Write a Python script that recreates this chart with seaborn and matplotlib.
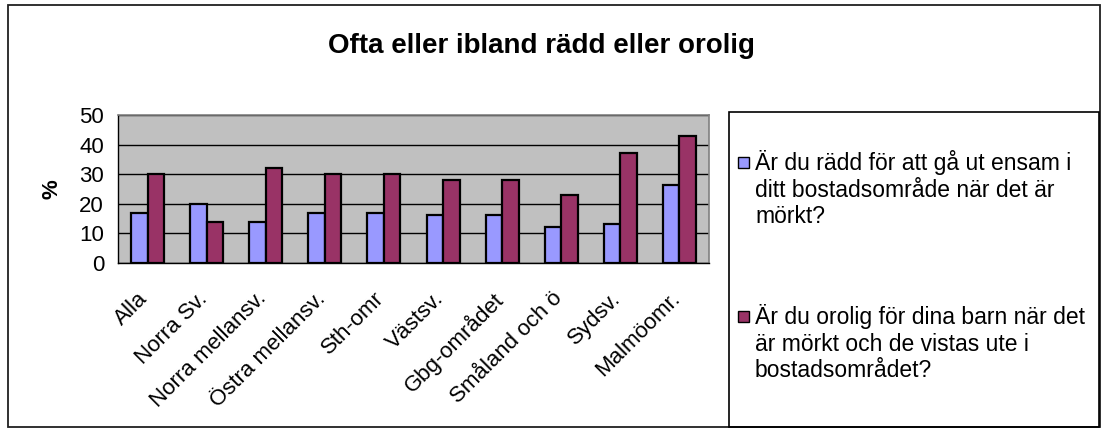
import numpy as np
import pandas as pd
import seaborn as sns
import matplotlib.pyplot as plt
import matplotlib.transforms as mtransforms
from matplotlib.patches import Rectangle

sns.set_style('white')
plt.rcParams['font.family'] = ['Liberation Sans', 'DejaVu Sans']
plt.rcParams['text.color'] = 'black'
plt.rcParams['xtick.color'] = 'black'
plt.rcParams['ytick.color'] = 'black'
plt.rcParams['axes.labelcolor'] = 'black'

# data
regions = ['Alla', 'Norra Sv.', 'Norra mellansv.', 'Östra mellansv.', 'Sth-omr',
           'Västsv.', 'Gbg-området', 'Småland och ö', 'Sydsv.', 'Malmöomr.']
radd_ensam = [17, 20, 14, 17, 17, 16.2, 16.2, 12, 13.2, 26.3]
orolig_barn = [30, 14, 32, 30, 30, 28, 28, 23, 37, 43]
series = ['Är du rädd för att gå ut ensam i\nditt bostadsområde när det är\nmörkt?',
          'Är du orolig för dina barn när det\när mörkt och de vistas ute i\nbostadsområdet?']
colors = ['#9999FF', '#993366']

df = pd.DataFrame({
    'region': regions * 2,
    'value': radd_ensam + orolig_barn,
    'serie': [series[0]] * len(regions) + [series[1]] * len(regions),
})

W, H = 1101, 441
fig = plt.figure(figsize=(W / 100, H / 100), dpi=100)
ax = fig.add_axes([118 / W, 1 - 263 / H, 591 / W, 148 / H])
ax.set_facecolor('#C0C0C0')

sns.barplot(data=df, x='region', y='value', hue='serie', palette=colors,
            saturation=1, width=0.56, edgecolor='black', linewidth=1.6,
            ax=ax, legend=False)

ax.set_ylim(0, 50)
ax.set_xlim(-0.5, len(regions) - 0.5)
ax.set_yticks(range(0, 51, 10))
ax.yaxis.grid(True, color='black', linewidth=1)
ax.set_axisbelow(True)

# ticks between categories, labels centred
ax.set_xticks(np.arange(-0.5, len(regions), 1))
ax.set_xticklabels([])
ax.set_xticks(np.arange(len(regions)), minor=True)
ax.set_xticklabels(regions, minor=True, rotation=45, ha='right',
                   rotation_mode='anchor', fontsize=16)
ax.tick_params(axis='x', which='minor', length=0, pad=18)
ax.tick_params(axis='x', which='major', length=6, width=1, color='black', direction='out')
ax.tick_params(axis='y', length=6, width=1, color='black', direction='out', labelsize=16, pad=4)
shift = mtransforms.ScaledTranslation(-10 / 100, 0, fig.dpi_scale_trans)
for lbl in ax.get_xticklabels(minor=True):
    lbl.set_transform(lbl.get_transform() + shift)

for s in ['top', 'right']:
    ax.spines[s].set_color('#808080')
    ax.spines[s].set_linewidth(1.2)
for s in ['left', 'bottom']:
    ax.spines[s].set_color('black')
    ax.spines[s].set_linewidth(1)

ax.set_xlabel('')
ax.set_ylabel('%', fontsize=16, fontweight='bold', labelpad=12)

fig.text(541 / W, 1 - 46 / H, 'Ofta eller ibland rädd eller orolig',
         fontsize=20, fontweight='bold', ha='center', va='center')

# outer frame
fig.patches.append(Rectangle((8 / W, 1 - 427 / H), 1092 / W, 422 / H,
                             transform=fig.transFigure, fill=False,
                             edgecolor='#202020', linewidth=1.3))
# legend box
fig.patches.append(Rectangle((729 / W, 1 - 427 / H), 370 / W, 315 / H,
                             transform=fig.transFigure, fill=False,
                             edgecolor='black', linewidth=1.2))
for i, (lab, c) in enumerate(zip(series, colors)):
    y0 = 163 + i * 154
    fig.patches.append(Rectangle((738 / W, 1 - (y0 + 5) / H), 11 / W, 11 / H,
                                 transform=fig.transFigure, facecolor=c,
                                 edgecolor='black', linewidth=1))
    fig.text(755 / W, 1 - (y0 - 13) / H, lab, fontsize=16.5, ha='left', va='top',
             linespacing=1.2)

fig.savefig('out.png', dpi=100)
